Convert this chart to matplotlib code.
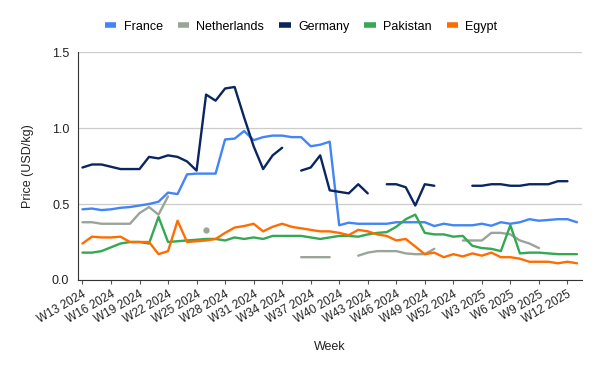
import matplotlib
matplotlib.use("Agg")
import matplotlib.pyplot as plt
import numpy as np

nan = np.nan

weeks = [f"W{w} 2024" for w in range(13, 53)] + [f"W{w} 2025" for w in range(1, 14)]

france = [0.465, 0.47, 0.46, 0.465, 0.475, 0.48, 0.49, 0.50, 0.515, 0.575,
          0.565, 0.695, 0.70, 0.70, 0.70, 0.925, 0.93, 0.98, 0.92, 0.94,
          0.95, 0.95, 0.94, 0.94, 0.88, 0.89, 0.91, 0.36, 0.377, 0.37,
          0.37, 0.37, 0.37, 0.38, 0.38, 0.38, 0.38, 0.355, 0.37, 0.36,
          0.36, 0.36, 0.37, 0.357, 0.38, 0.37, 0.38, 0.40, 0.39, 0.395,
          0.40, 0.40, 0.38]

netherlands = [0.38, 0.38, 0.37, 0.37, 0.37, 0.37, 0.44, 0.48, 0.43, 0.55,
               nan, nan, nan, 0.33, nan, nan, nan, nan, nan, nan,
               nan, nan, nan, 0.15, 0.15, 0.15, 0.15, nan, nan, 0.16,
               0.18, 0.19, 0.19, 0.19, 0.175, 0.17, 0.17, 0.205, nan, nan,
               0.26, 0.26, 0.26, 0.31, 0.31, 0.30, 0.26, 0.24, 0.21, nan,
               nan, nan, nan]

germany = [0.74, 0.76, 0.76, 0.745, 0.73, 0.73, 0.73, 0.81, 0.80, 0.82,
           0.81, 0.78, 0.72, 1.22, 1.18, 1.26, 1.27, 1.07, 0.88, 0.73,
           0.82, 0.87, nan, 0.72, 0.74, 0.82, 0.59, 0.58, 0.57, 0.63,
           0.57, nan, 0.63, 0.63, 0.61, 0.49, 0.63, 0.62, nan, nan,
           nan, 0.62, 0.62, 0.63, 0.63, 0.62, 0.62, 0.63, 0.63, 0.63,
           0.65, 0.65, nan]

pakistan = [0.18, 0.18, 0.19, 0.215, 0.24, 0.25, 0.25, 0.24, 0.415, 0.25,
            0.255, 0.26, 0.265, 0.27, 0.27, 0.26, 0.28, 0.27, 0.28, 0.27,
            0.29, 0.29, 0.29, 0.29, 0.28, 0.27, 0.28, 0.29, 0.29, 0.285,
            0.30, 0.31, 0.315, 0.35, 0.40, 0.43, 0.31, 0.30, 0.30, 0.285,
            0.29, 0.225, 0.21, 0.205, 0.19, 0.36, 0.175, 0.18, 0.18, 0.175,
            0.17, 0.17, 0.17]

egypt = [0.24, 0.285, 0.28, 0.28, 0.285, 0.25, 0.25, 0.25, 0.17, 0.19,
         0.39, 0.25, 0.255, 0.26, 0.27, 0.31, 0.345, 0.355, 0.37, 0.32,
         0.35, 0.37, 0.35, 0.34, 0.33, 0.32, 0.32, 0.31, 0.295, 0.33,
         0.32, 0.30, 0.29, 0.26, 0.27, 0.22, 0.17, 0.18, 0.15, 0.17,
         0.155, 0.175, 0.16, 0.18, 0.15, 0.15, 0.14, 0.12, 0.12, 0.12,
         0.11, 0.12, 0.11]

series = [
    ("France", france, "#4285F4"),
    ("Netherlands", netherlands, "#9AA59A"),
    ("Germany", germany, "#0B2560"),
    ("Pakistan", pakistan, "#34A853"),
    ("Egypt", egypt, "#FF6D01"),
]

plt.rcParams["font.family"] = ["Liberation Sans", "DejaVu Sans"]

fig = plt.figure(figsize=(6, 3.71), dpi=100)
ax = fig.add_axes([0.1295, 0.2453, 0.84, 0.6145])

x = np.arange(len(weeks))
for name, vals, color in series:
    v = np.array(vals, dtype=float)
    # single points between gaps are drawn as dots
    lone = [i for i in range(len(v)) if not np.isnan(v[i])
            and (i == 0 or np.isnan(v[i - 1]))
            and (i == len(v) - 1 or np.isnan(v[i + 1]))]
    ax.plot(x, v, color=color, lw=1.7, label=name, solid_joinstyle="round",
            solid_capstyle="round", marker="o", ms=3.5, markevery=lone)

ax.set_xlim(-0.5, len(weeks) - 0.5)
ax.set_ylim(0, 1.5)
ax.set_yticks([0, 0.5, 1.0, 1.5])
ax.set_yticklabels(["0.0", "0.5", "1.0", "1.5"])
ax.set_xticks(x[::3])
ax.set_xticklabels(weeks[::3], rotation=30, ha="right", rotation_mode="anchor")

ax.tick_params(axis="y", length=0, pad=6, labelsize=9, labelcolor="#222222")
ax.tick_params(axis="x", length=3, width=0.8, color="#555555", pad=3,
               labelsize=8.5, labelcolor="#222222")
ax.grid(axis="y", color="#cccccc", lw=0.9)
ax.set_axisbelow(True)
for s in ["top", "right"]:
    ax.spines[s].set_visible(False)
ax.spines["left"].set_color("#333333")
ax.spines["bottom"].set_color("#333333")

ax.set_ylabel("Price (USD/kg)", fontsize=9, color="#222222", labelpad=13)
ax.set_xlabel("Week", fontsize=9, color="#222222", labelpad=11)

leg = fig.legend(loc="center", bbox_to_anchor=(0.502, 0.928), ncol=5,
                 frameon=False, fontsize=9, handlelength=0.9,
                 handletextpad=0.6, columnspacing=1.2)
for line in leg.get_lines():
    line.set_linewidth(4)
    line.set_marker("")
    line.set_solid_capstyle("butt")

fig.savefig("out.png", dpi=100)
